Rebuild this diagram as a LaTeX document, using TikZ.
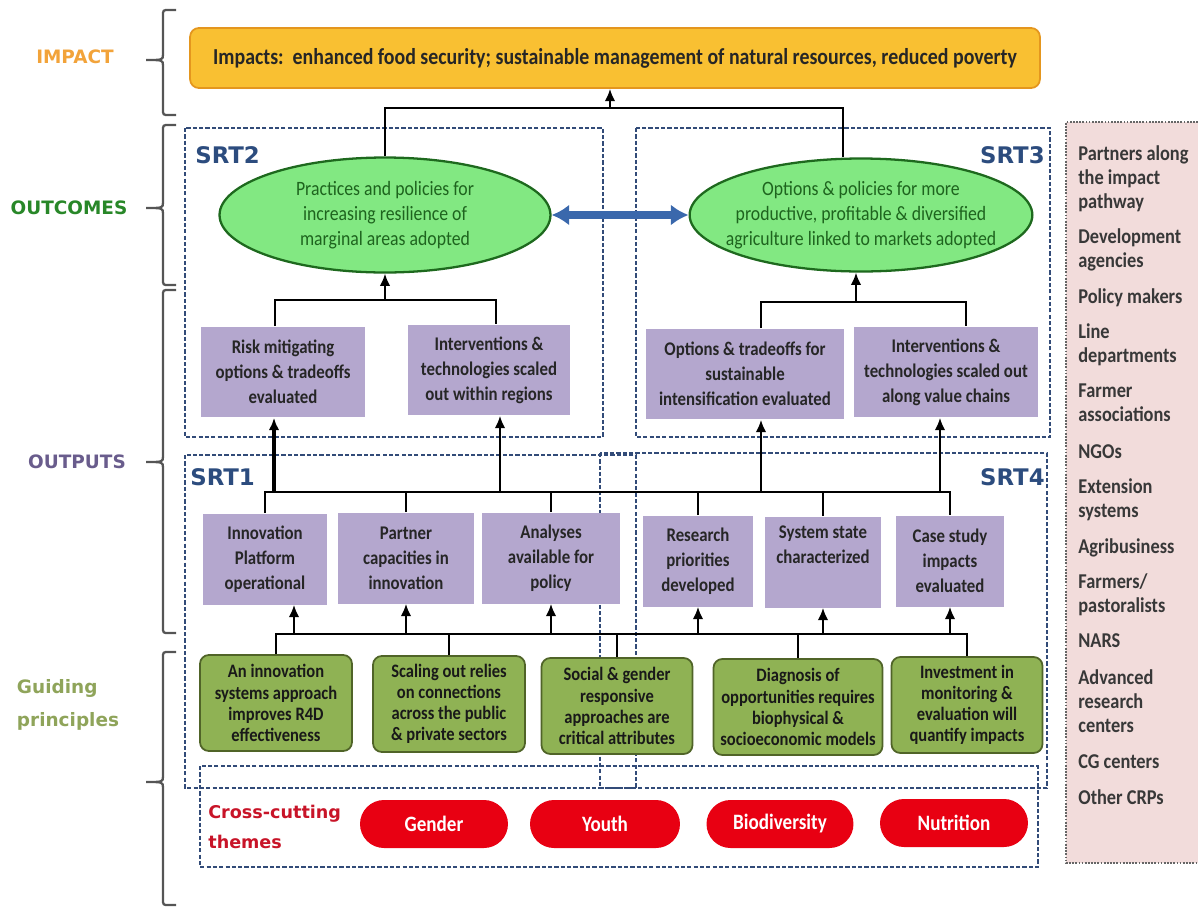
\documentclass[tikz,border=0pt]{standalone}
\usepackage{xcolor}
\usepackage{fontspec}
\setmainfont{Carlito}[FakeStretch=0.87]
\newfontfamily\headfont{DejaVu Sans}
\usepackage{tikz}
\usetikzlibrary{arrows.meta}
\usetikzlibrary{shapes.geometric}

\definecolor{impfill}{RGB}{249,192,50}
\definecolor{impline}{RGB}{228,150,30}
\definecolor{ovfill}{RGB}{130,232,130}
\definecolor{ovline}{RGB}{30,105,30}
\definecolor{ovtext}{RGB}{30,100,30}
\definecolor{lav}{RGB}{180,167,206}
\definecolor{olive}{RGB}{143,178,84}
\definecolor{oliveline}{RGB}{80,100,40}
\definecolor{pillred}{RGB}{232,0,18}
\definecolor{srtblue}{RGB}{44,76,126}
\definecolor{dashblue}{RGB}{50,75,120}
\definecolor{pinkbg}{RGB}{242,220,219}
\definecolor{bracegrey}{RGB}{85,85,85}
\definecolor{linkblue}{RGB}{58,104,172}
\definecolor{crossred}{RGB}{200,20,40}
\definecolor{impcol}{RGB}{242,163,58}
\definecolor{outcol}{RGB}{40,135,40}
\definecolor{outpcol}{RGB}{105,92,140}
\definecolor{guidecol}{RGB}{143,164,90}

\tikzset{
  impbox/.style={draw=impline, line width=1pt, fill=impfill, rounded corners=5pt,
    font=\bfseries\fontsize{13}{15}\selectfont, text=black!85},
  outc/.style={ellipse, draw=ovline, line width=1.3pt, fill=ovfill, align=center,
    inner xsep=-8pt, inner ysep=0pt, text=ovtext, font=\fontsize{11.6}{14.2}\selectfont},
  outbox/.style={fill=lav, align=center, minimum height=1.82cm, inner sep=1pt,
    text=black!85, font=\bfseries\fontsize{11}{14.2}\selectfont},
  guide/.style={draw=oliveline, line width=1pt, fill=olive, rounded corners=5pt, align=center,
    minimum height=1.92cm, inner sep=1pt, text=black!90, font=\bfseries\fontsize{10.8}{12}\selectfont},
  pill/.style={fill=pillred, rounded corners=0.48cm, minimum height=0.96cm, text=white,
    font=\bfseries\fontsize{12.5}{14}\selectfont},
  srt/.style={draw=dashblue, line width=1.2pt, dash pattern=on 2.4pt off 1.2pt},
  srtlab/.style={text=srtblue, inner sep=0pt, font=\headfont\bfseries\fontsize{13}{15}\selectfont},
  head/.style={inner sep=0pt, font=\headfont\bfseries\fontsize{10.5}{19}\selectfont},
  partner/.style={anchor=west, align=left, inner sep=0pt, text=black!78,
    font=\bfseries\fontsize{12}{13.6}\selectfont},
  brace/.style={draw=bracegrey, line width=1.3pt},
  link/.style={draw=black, line width=1.1pt},
  arr/.style={link, -{Latex[length=7pt,width=6pt]}},
  fatarr/.style={arr, line width=2pt},
  both/.style={draw=linkblue, line width=4pt,
    {Latex[length=10pt,width=12pt]}-{Latex[length=10pt,width=12pt]}}
}

\begin{document}
\begin{tikzpicture}[x=0.02cm, y=-0.02cm]
  \useasboundingbox (0,0) rectangle (1198,907);

  % left braces
  \foreach \t/\m/\b in {10/60/115, 125/208/285, 290/462/633, 652/782/905}{
    \draw[brace] (176,\t) -- (169,\t) .. controls (163,\t) .. (163,\t+6) -- (163,\m-6)
      .. controls (163,\m) .. (146,\m) .. controls (163,\m) .. (163,\m+6)
      -- (163,\b-6) .. controls (163,\b) .. (169,\b) -- (176,\b);
  }

  \node[head, text=impcol] (himp) at (75,57) {IMPACT};
  \node[head, text=outcol] (hout) at (69,208) {OUTCOMES};
  \node[head, text=outpcol] (hop) at (77,462) {OUTPUTS};
  \node[head, text=guidecol, align=left] (hgp) at (68,705) {Guiding\\principles};

  % SRT frames
  \draw[srt] (185,128) rectangle (603,437);
  \draw[srt] (636,128) rectangle (1050,437);
  \draw[srt] (185,455) rectangle (636,788);
  \draw[srt] (600,453) rectangle (1047,788);
  \draw[srt] (200,766) rectangle (1038,867);

  \node[srtlab, anchor=west] (s2) at (195,155) {SRT2};
  \node[srtlab, anchor=east] (s3) at (1045,155) {SRT3};
  \node[srtlab, anchor=west] (s1) at (190,477) {SRT1};
  \node[srtlab, anchor=east] (s4) at (1045,477) {SRT4};

  % partners panel
  \fill[pinkbg] (1066,122) rectangle (1198,863);
  \draw[black!60, line width=0.8pt, dash pattern=on 1pt off 0.8pt]
    (1198,122) -- (1066,122) -- (1066,863) -- (1198,863);
  \foreach \y/\txt [count=\i] in {179/{Partners along\\the impact\\pathway},
      250/{Development\\agencies}, 298/{Policy makers}, 345/{Line\\departments},
      403/{Farmer\\associations}, 452/{NGOs}, 500/{Extension\\systems},
      548/{Agribusiness}, 595/{Farmers/\\pastoralists}, 641/{NARS},
      701/{Advanced\\research\\centers}, 762/{CG centers}, 797/{Other CRPs}}
    \node[partner] (q\i) at (1078,\y) {\txt};

  % impact and outcomes
  \node[impbox, minimum width=17cm, minimum height=1.2cm] (imp) at (615,58)
    {Impacts:\ \ enhanced food security; sustainable management of natural resources, reduced poverty};
  \node[outc, minimum width=6.62cm, minimum height=2.3cm] (o2) at (385,215)
    {Practices and policies for\\increasing resilience of\\marginal areas adopted};
  \node[outc, minimum width=6.76cm, minimum height=2.26cm] (o3) at (861,215)
    {Options \& policies for more\\productive, profitable \& diversified\\agriculture linked to markets adopted};

  % outputs
  \node[outbox, minimum width=3.28cm] (r1) at (283,372) {Risk mitigating\\options \& tradeoffs\\evaluated};
  \node[outbox, minimum width=3.24cm] (r2) at (489,370) {Interventions \&\\technologies scaled\\out within regions};
  \node[outbox, minimum width=3.98cm] (r3) at (745,374) {Options \& tradeoffs for\\sustainable\\intensification evaluated};
  \node[outbox, minimum width=3.70cm] (r4) at (946,372) {Interventions \&\\technologies scaled out\\along value chains};

  \node[outbox, minimum width=2.48cm] (p1) at (265,559) {Innovation\\Platform\\operational};
  \node[outbox, minimum width=2.72cm] (p2) at (406,558) {Partner\\capacities in\\innovation};
  \node[outbox, minimum width=2.76cm] (p3) at (551,558) {Analyses\\available for\\policy};
  \node[outbox, minimum width=2.20cm] (p4) at (698,561) {Research\\priorities\\developed};
  \node[outbox, minimum width=2.34cm] (p5) at (823,562) {System state\\characterized\\[6pt]};
  \node[outbox, minimum width=2.18cm] (p6) at (950,561) {Case study\\impacts\\evaluated};

  % guiding principles
  \node[guide, minimum width=3.04cm] (g1) at (276,703) {An innovation\\systems approach\\improves R4D\\effectiveness};
  \node[guide, minimum width=3.04cm] (g2) at (449,704) {Scaling out relies\\on connections\\across the public\\\& private sectors};
  \node[guide, minimum width=3.02cm] (g3) at (617,706) {Social \& gender\\responsive\\approaches are\\critical attributes};
  \node[guide, minimum width=3.38cm] (g4) at (798,707) {Diagnosis of\\opportunities requires\\biophysical \&\\socioeconomic models};
  \node[guide, minimum width=3.02cm] (g5) at (967,705) {Investment in\\monitoring \&\\evaluation will\\quantify impacts};

  % cross-cutting themes
  \node[text=crossred, align=left, anchor=west, inner sep=0pt,
    font=\headfont\bfseries\fontsize{10}{17}\selectfont] (cc) at (208,827) {Cross-cutting\\themes};
  \node[pill, minimum width=2.96cm] (t1) at (434,824) {Gender};
  \node[pill, minimum width=3.00cm] (t2) at (605,824) {Youth};
  \node[pill, minimum width=2.94cm] (t3) at (780,824) {Biodiversity};
  \node[pill, minimum width=2.96cm] (t4) at (954,823) {Nutrition};

  % outcomes to impact
  \coordinate (j2) at (385,108);
  \coordinate (j3) at (843,108);
  \coordinate (ji) at (610,108);
  \draw[link] (o2.north) -- (j2) -- (j3) -- (j3 |- o3.north);
  \draw[arr] (ji) -- (ji |- imp.south);
  \draw[both] (o2.east) -- (o3.west);

  % outputs to outcomes
  \coordinate (a2) at (275,300);
  \coordinate (b2) at (496,300);
  \draw[link] (r1.north -| a2) -- (a2) -- (b2) -- (r2.north -| b2);
  \draw[arr] (o2.south |- a2) -- (o2.south);
  \coordinate (a3) at (761,302);
  \coordinate (b3) at (966,302);
  \coordinate (c3) at (856,302);
  \draw[link] (r3.north -| a3) -- (a3) -- (b3) -- (r4.north -| b3);
  \draw[arr] (c3) -- (c3 |- o3.south);

  % SRT1 / SRT4 outputs feed the upper outputs
  \coordinate (m) at (0,492);
  \draw[link] (p1.north) |- (p6.north |- m) -- (p6.north);
  \foreach \n in {p2,p3,p4,p5}
    \draw[link] (\n.north) -- (\n.north |- m);
  \coordinate (u1) at (274,492);
  \coordinate (u2) at (500,492);
  \coordinate (u3) at (761,492);
  \coordinate (u4) at (940,492);
  \draw[fatarr] (u1) -- (u1 |- r1.south);
  \foreach \u/\r in {u2/r2,u3/r3,u4/r4}
    \draw[arr] (\u) -- (\u |- \r.south);

  % principles feed the outputs
  \coordinate (n) at (0,634);
  \draw[link] (g1.north) |- (g5.north |- n) -- (g5.north);
  \foreach \g in {g2,g3,g4}
    \draw[link] (\g.north) -- (\g.north |- n);
  \coordinate (v1) at (294,634);
  \draw[arr] (v1) -- (v1 |- p1.south);
  \foreach \p in {p2,p3,p4,p5,p6}
    \draw[arr] (\p.south |- n) -- (\p.south);
\end{tikzpicture}
\end{document}
